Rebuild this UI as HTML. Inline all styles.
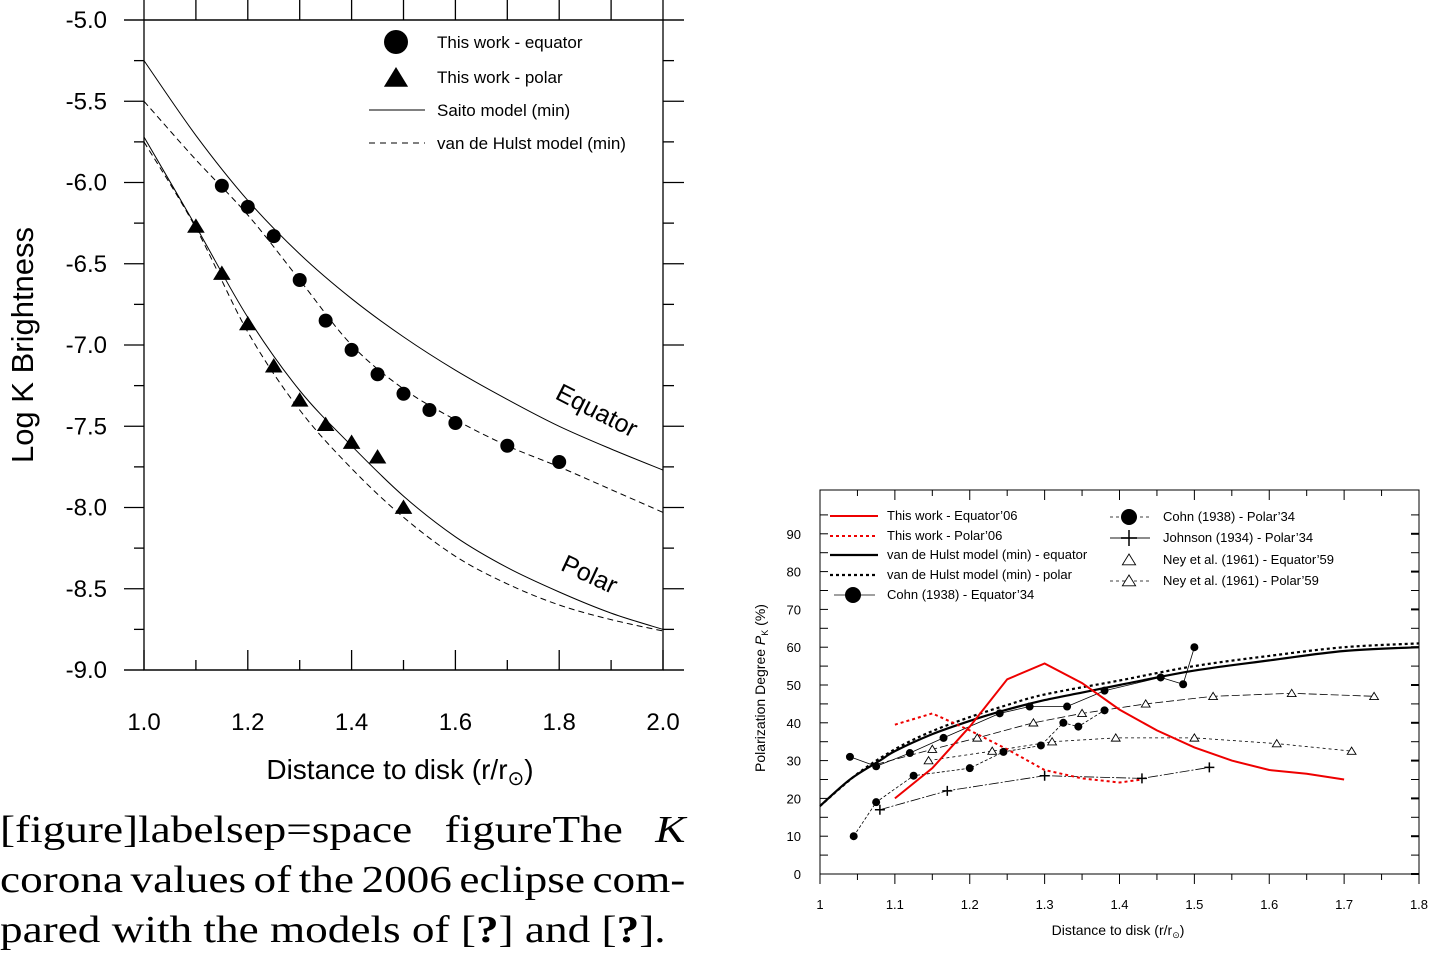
<!DOCTYPE html>
<html><head><meta charset="utf-8"><style>
body{margin:0;background:#fff;width:1431px;height:953px;overflow:hidden;position:relative}
svg{position:absolute;left:0;top:0}
.cap{position:absolute;left:0;width:576px;font-family:"Liberation Serif",serif;font-size:38px;line-height:50px;top:805px;color:#000;transform:scaleX(1.19);transform-origin:0 0}
.cap div{white-space:nowrap}
</style></head><body>
<svg id="s" width="1431" height="953" xmlns="http://www.w3.org/2000/svg" font-family="Liberation Sans, sans-serif"></svg>
<div class="cap">
<div style="display:flex;justify-content:space-between"><span>[figure]labelsep=space</span><span>figureThe</span><span><i>K</i></span></div>
<div style="display:flex;justify-content:space-between"><span>corona</span><span>values</span><span>of</span><span>the</span><span>2006</span><span>eclipse</span><span>com-</span></div>
<div>pared with the models of [<b>?</b>] and [<b>?</b>].</div>
</div>
<script>
const S=document.getElementById('s');let h='';
function cr(pts){let d='M'+pts[0][0].toFixed(1)+','+pts[0][1].toFixed(1);
for(let i=0;i<pts.length-1;i++){const p0=pts[Math.max(0,i-1)],p1=pts[i],p2=pts[i+1],p3=pts[Math.min(pts.length-1,i+2)];
d+=' C'+(p1[0]+(p2[0]-p0[0])/6).toFixed(1)+','+(p1[1]+(p2[1]-p0[1])/6).toFixed(1)+' '+(p2[0]-(p3[0]-p1[0])/6).toFixed(1)+','+(p2[1]-(p3[1]-p1[1])/6).toFixed(1)+' '+p2[0].toFixed(1)+','+p2[1].toFixed(1);}return d;}
function poly(pts){return 'M'+pts.map(p=>p[0].toFixed(1)+','+p[1].toFixed(1)).join(' L');}
const LX=r=>144+(r-1)*519, LY=v=>20+(-5-v)*162.5;
const L=a=>a.map(p=>[LX(p[0]),LY(p[1])]);
h+='<rect x="144" y="20" width="519" height="650" fill="none" stroke="#000" stroke-width="1.3"/>';
h+='<line x1="124" y1="20" x2="684" y2="20" stroke="#000" stroke-width="1.3"/>';
h+='<line x1="124" y1="670" x2="684" y2="670" stroke="#000" stroke-width="1.3"/>';
for(let v=-5;v>=-9;v-=0.25){const y=LY(v);h+=`<line x1="${v%0.5==0?124:134}" y1="${y}" x2="144" y2="${y}" stroke="#000" stroke-width="1.3"/><line x1="663" y1="${y}" x2="${v%0.5==0?684:674}" y2="${y}" stroke="#000" stroke-width="1.3"/>`;
if(Math.abs(v*2-Math.round(v*2))<1e-9)h+=`<text x="107" y="${y+8}" font-size="24" text-anchor="end">${v.toFixed(1)}</text>`;}
for(let i=0;i<=10;i++){const x=LX(1+i*0.1);h+=`<line x1="${x}" y1="0" x2="${x}" y2="20" stroke="#000" stroke-width="1.3"/><line x1="${x}" y1="670" x2="${x}" y2="${i%2?660:650}" stroke="#000" stroke-width="1.3"/>`;
if(i%2==0)h+=`<text x="${x}" y="730" font-size="24" text-anchor="middle">${(1+i*0.1).toFixed(1)}</text>`;}
h+='<text x="400" y="779" font-size="28" text-anchor="middle">Distance to disk (r/r<tspan font-size="20" dy="6">⊙</tspan><tspan dy="-6">)</tspan></text>';
h+='<text transform="translate(33,345) rotate(-90)" font-size="31" text-anchor="middle">Log K Brightness</text>';
const se=[[1,-5.25],[1.1,-5.71],[1.2,-6.11],[1.3,-6.44],[1.4,-6.715],[1.5,-6.95],[1.6,-7.155],[1.7,-7.335],[1.8,-7.5],[1.9,-7.64],[2,-7.77]];
const ve=[[1,-5.5],[1.1,-5.86],[1.2,-6.2],[1.3,-6.6],[1.4,-7.0],[1.5,-7.27],[1.6,-7.46],[1.7,-7.62],[1.8,-7.75],[1.9,-7.89],[2,-8.03]];
const sp=[[1,-5.72],[1.1,-6.27],[1.2,-6.83],[1.3,-7.28],[1.4,-7.62],[1.5,-7.93],[1.6,-8.18],[1.7,-8.37],[1.8,-8.52],[1.9,-8.65],[2,-8.75]];
const vp=[[1,-5.75],[1.1,-6.28],[1.2,-6.92],[1.3,-7.4],[1.4,-7.76],[1.5,-8.06],[1.6,-8.3],[1.7,-8.47],[1.8,-8.6],[1.9,-8.69],[2,-8.76]];
h+=`<path d="${cr(L(se))}" fill="none" stroke="#000" stroke-width="1"/><path d="${cr(L(sp))}" fill="none" stroke="#000" stroke-width="1"/>`;
h+=`<path d="${cr(L(ve))}" fill="none" stroke="#000" stroke-width="1" stroke-dasharray="6,4"/><path d="${cr(L(vp))}" fill="none" stroke="#000" stroke-width="1" stroke-dasharray="6,4"/>`;
[[1.15,-6.02],[1.2,-6.15],[1.25,-6.33],[1.3,-6.6],[1.35,-6.85],[1.4,-7.03],[1.45,-7.18],[1.5,-7.3],[1.55,-7.4],[1.6,-7.48],[1.7,-7.62],[1.8,-7.72]].forEach(p=>h+=`<circle cx="${LX(p[0])}" cy="${LY(p[1])}" r="7"/>`);
const tri=(x,y,s)=>`<polygon points="${x},${y-s} ${x-s*1.1},${y+s*0.8} ${x+s*1.1},${y+s*0.8}"/>`;
[[1.1,-6.27],[1.15,-6.56],[1.2,-6.87],[1.25,-7.13],[1.3,-7.34],[1.35,-7.49],[1.4,-7.6],[1.45,-7.69],[1.5,-8.0]].forEach(p=>h+=tri(LX(p[0]),LY(p[1]),8));
h+='<circle cx="396" cy="42" r="12"/>'+tri(396,78,11);
h+='<line x1="369" y1="110" x2="425" y2="110" stroke="#000"/><line x1="369" y1="143" x2="425" y2="143" stroke="#000" stroke-dasharray="6,5"/>';
[['This work - equator',48],['This work - polar',83],['Saito model (min)',116],['van de Hulst model (min)',149]].forEach(t=>h+=`<text x="437" y="${t[1]}" font-size="17">${t[0]}</text>`);
h+='<text transform="translate(593,418) rotate(27)" font-size="25" text-anchor="middle">Equator</text>';
h+='<text transform="translate(586,582) rotate(25)" font-size="25" text-anchor="middle">Polar</text>';
const RX=r=>820+(r-1)*748.75, RY=v=>874-v*3.78;
const R=a=>a.map(p=>[RX(p[0]),RY(p[1])]);
h+='<rect x="820" y="490" width="599" height="384" fill="none" stroke="#000" stroke-width="1"/>';
for(let v=0;v<=95;v+=5){const y=RY(v);h+=`<line x1="820" y1="${y}" x2="828" y2="${y}" stroke="#000"/><line x1="1411" y1="${y}" x2="1419" y2="${y}" stroke="#000" stroke-width="${v%10?1:2}"/>`;
if(v%10==0)h+=`<text x="801" y="${y+5}" font-size="13" text-anchor="end">${v}</text>`;}
for(let i=0;i<=16;i++){const x=RX(1+i*0.05);h+=`<line x1="${x}" y1="490" x2="${x}" y2="${i%2?496:500}" stroke="#000"/><line x1="${x}" y1="874" x2="${x}" y2="${i%2?880:884}" stroke="#000"/>`;
if(i%2==0)h+=`<text x="${x}" y="909" font-size="13" text-anchor="middle">${i==0?'1':i==16?'1.8':(1+i*0.05).toFixed(1)}</text>`;}
h+='<text x="1118" y="935" font-size="14" text-anchor="middle">Distance to disk (r/r<tspan font-size="9" dy="3">⊙</tspan><tspan dy="-3">)</tspan></text>';
h+='<text transform="translate(765,688) rotate(-90)" font-size="14" text-anchor="middle">Polarization Degree <tspan font-style="italic">P</tspan><tspan font-size="9" dy="3">K</tspan><tspan dy="-3"> (%)</tspan></text>';
const neyP=[[1.145,30],[1.23,32.5],[1.31,35],[1.395,36],[1.5,36],[1.61,34.5],[1.71,32.5]];
const neyE=[[1.15,33],[1.21,36],[1.285,40],[1.35,42.5],[1.435,45],[1.525,47],[1.63,47.8],[1.74,47]];
const cohE=[[1.04,31],[1.075,28.5],[1.12,32],[1.165,36],[1.24,42.5],[1.28,44.3],[1.33,44.3],[1.38,48.5],[1.455,52],[1.485,50.2],[1.5,60]];
const cohP=[[1.045,10],[1.075,19],[1.125,26],[1.2,28],[1.245,32.3],[1.295,34],[1.325,40],[1.345,39],[1.38,43.3]];
const john=[[1.08,17],[1.17,22],[1.3,26],[1.43,25.3],[1.52,28.2]];
h+=`<path d="${poly(R(neyP))}" fill="none" stroke="#000" stroke-width="0.8" stroke-dasharray="3,3"/>`;
h+=`<path d="${poly(R([[1.075,29]].concat(neyE)))}" fill="none" stroke="#000" stroke-width="0.8" stroke-dasharray="8,3"/>`;
h+=`<path d="${poly(R(cohE))}" fill="none" stroke="#000" stroke-width="0.8"/>`;
h+=`<path d="${poly(R(cohP))}" fill="none" stroke="#000" stroke-width="0.8" stroke-dasharray="3,2"/>`;
h+=`<path d="${poly(R(john))}" fill="none" stroke="#000" stroke-width="0.8" stroke-dasharray="10,2,2,2"/>`;
const vdE=[[1,18],[1.04,25],[1.08,30],[1.1,32.5],[1.15,37],[1.2,40.5],[1.25,43.5],[1.3,46],[1.35,48],[1.4,50],[1.5,53.8],[1.6,56.5],[1.7,59],[1.8,60]];
const vdP=[[1,18],[1.05,26.5],[1.1,33],[1.15,37.8],[1.2,41.5],[1.25,44.7],[1.3,47.5],[1.4,51.2],[1.5,55],[1.6,57.7],[1.7,60],[1.8,61]];
h+=`<path d="${cr(R(vdE))}" fill="none" stroke="#000" stroke-width="2.2"/>`;
h+=`<path d="${cr(R(vdP))}" fill="none" stroke="#000" stroke-width="2.2" stroke-dasharray="3,3"/>`;
const redS=[[1.1,20],[1.15,28],[1.2,39],[1.25,51.5],[1.3,55.7],[1.35,50.5],[1.4,43.5],[1.45,38],[1.5,33.5],[1.55,30],[1.6,27.5],[1.65,26.5],[1.7,25]];
const redD=[[1.1,39.5],[1.15,42.5],[1.2,38],[1.25,33],[1.3,27.5],[1.35,25.3],[1.4,24.2],[1.43,25]];
h+=`<path d="${poly(R(redS))}" fill="none" stroke="#e00" stroke-width="2"/>`;
h+=`<path d="${poly(R(redD))}" fill="none" stroke="#e00" stroke-width="2" stroke-dasharray="3,3"/>`;
cohE.concat(cohP).forEach(p=>h+=`<circle cx="${RX(p[0])}" cy="${RY(p[1])}" r="4"/>`);
const otri=(x,y,s)=>`<polygon points="${x},${y-s} ${x-s*1.1},${y+s*0.8} ${x+s*1.1},${y+s*0.8}" fill="#fff" stroke="#000" stroke-width="0.9"/>`;
neyP.concat(neyE).forEach(p=>h+=otri(RX(p[0]),RY(p[1]),4));
const plus=(x,y,s)=>`<path d="M${x-s},${y}H${x+s}M${x},${y-s}V${y+s}" stroke="#000" stroke-width="1.5"/>`;
john.forEach(p=>h+=plus(RX(p[0]),RY(p[1]),5));
h+='<line x1="830" y1="516" x2="878" y2="516" stroke="#e00" stroke-width="2"/><line x1="830" y1="536" x2="878" y2="536" stroke="#e00" stroke-width="2" stroke-dasharray="3,3"/>';
h+='<line x1="830" y1="555" x2="878" y2="555" stroke="#000" stroke-width="2.2"/><line x1="830" y1="575" x2="878" y2="575" stroke="#000" stroke-width="2.2" stroke-dasharray="3,3"/>';
h+='<line x1="834" y1="595" x2="875" y2="595" stroke="#000" stroke-width="0.8"/><circle cx="853" cy="595" r="8"/>';
[['This work - Equator\u201906',520],['This work - Polar\u201906',540],['van de Hulst model (min) - equator',559],['van de Hulst model (min) - polar',579],['Cohn (1938) - Equator\u201934',599]].forEach(t=>h+=`<text x="887" y="${t[1]}" font-size="13">${t[0]}</text>`);
h+='<line x1="1110" y1="517" x2="1150" y2="517" stroke="#000" stroke-width="0.8" stroke-dasharray="3,3"/><circle cx="1129" cy="517" r="8"/>';
h+='<line x1="1110" y1="538" x2="1150" y2="538" stroke="#666" stroke-width="1.5"/>'+plus(1129,538,8);
h+=otri(1129,560,6)+'<line x1="1110" y1="581" x2="1150" y2="581" stroke="#000" stroke-width="0.8" stroke-dasharray="3,3"/>'+otri(1129,581,6);
[['Cohn (1938) - Polar\u201934',521],['Johnson (1934) - Polar\u201934',542],['Ney et al. (1961) - Equator\u201959',564],['Ney et al. (1961) - Polar\u201959',585]].forEach(t=>h+=`<text x="1163" y="${t[1]}" font-size="13">${t[0]}</text>`);
S.innerHTML=h;
</script>
</body></html>
